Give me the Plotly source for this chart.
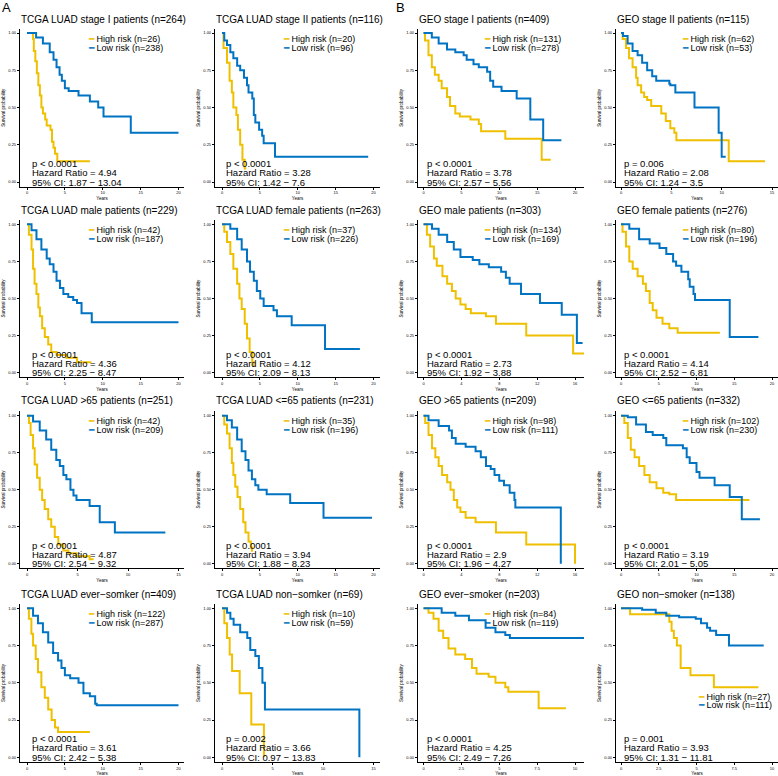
import plotly.graph_objects as go

# ---- data: Kaplan-Meier steps (years, survival) ----
tcga_stage1_high = [(0, 1.0), (0.8, 0.96), (0.9, 0.88), (1.1, 0.81), (1.3, 0.73), (1.5, 0.65), (1.7, 0.58),
                    (1.9, 0.50), (2.1, 0.46), (2.4, 0.42), (2.6, 0.38), (3.1, 0.35), (3.3, 0.27), (3.5, 0.23),
                    (3.7, 0.19), (4.0, 0.14), (8.3, 0.14)]
tcga_stage1_low = [(0, 1.0), (1.2, 0.97), (2.1, 0.93), (3.0, 0.87), (3.5, 0.82), (3.9, 0.77), (4.3, 0.72),
                   (4.6, 0.68), (5.0, 0.63), (5.5, 0.61), (6.8, 0.58), (8.3, 0.54), (9.4, 0.50), (10.1, 0.44),
                   (13.7, 0.33), (20.0, 0.33)]
tcga_stage2_high = [(0, 1.0), (0.2, 0.90), (0.66, 0.80), (1.0, 0.68), (1.3, 0.60), (1.5, 0.50), (1.9, 0.45),
                    (2.1, 0.35), (2.4, 0.25), (2.7, 0.15), (3.0, 0.09), (3.2, 0.09)]
tcga_stage2_low = [(0, 1.0), (0.3, 0.95), (0.66, 0.92), (1.1, 0.87), (1.5, 0.83), (2.0, 0.78), (2.4, 0.75),
                   (2.9, 0.70), (3.3, 0.65), (3.5, 0.60), (4.0, 0.56), (4.2, 0.45), (4.4, 0.40), (4.9, 0.35),
                   (5.3, 0.31), (5.5, 0.26), (7.0, 0.17), (19.3, 0.17)]
geo_stage1_high = [(0, 1.0), (0.2, 0.95), (0.66, 0.85), (1.1, 0.77), (1.5, 0.72), (2.0, 0.68), (2.4, 0.63),
                   (3.1, 0.57), (3.5, 0.51), (4.2, 0.46), (4.8, 0.44), (6.2, 0.42), (7.3, 0.39), (7.6, 0.34),
                   (10.8, 0.29), (15.6, 0.15), (16.8, 0.15)]
geo_stage1_low = [(0, 1.0), (1.1, 0.97), (2.0, 0.93), (3.1, 0.89), (4.2, 0.87), (5.3, 0.85), (5.7, 0.82),
                  (6.6, 0.79), (7.3, 0.77), (8.4, 0.74), (8.8, 0.68), (9.2, 0.64), (10.3, 0.61), (12.3, 0.56),
                  (14.1, 0.42), (15.8, 0.28), (18.2, 0.28)]
geo_stage2_high = [(0, 1.0), (0.16, 0.96), (0.5, 0.90), (0.8, 0.83), (1.15, 0.77), (1.5, 0.70), (1.65, 0.65),
                   (2.0, 0.60), (2.3, 0.57), (2.6, 0.55), (3.0, 0.51), (4.0, 0.46), (4.45, 0.41), (4.9, 0.36),
                   (5.3, 0.33), (5.5, 0.28), (10.7, 0.14), (14.3, 0.14)]
geo_stage2_low = [(0, 1.0), (0.2, 0.98), (0.66, 0.93), (1.15, 0.88), (1.65, 0.85), (2.1, 0.80), (2.6, 0.75),
                  (3.1, 0.71), (3.5, 0.68), (4.8, 0.66), (4.9, 0.65), (5.4, 0.60), (7.3, 0.50), (9.7, 0.33),
                  (10.0, 0.17), (10.4, 0.17)]

tcga_male_high = [(0, 1.0), (0.25, 0.93), (0.6, 0.83), (0.8, 0.70), (1.0, 0.60), (1.25, 0.53), (1.5, 0.44),
                  (1.7, 0.38), (2.0, 0.30), (2.35, 0.24), (2.8, 0.19), (3.2, 0.14), (3.9, 0.12), (5.2, 0.10),
                  (6.6, 0.07), (8.5, 0.07)]
tcga_male_low = [(0, 1.0), (0.6, 0.96), (1.25, 0.90), (1.9, 0.83), (2.6, 0.77), (3.0, 0.73), (3.5, 0.68),
                 (3.9, 0.62), (4.35, 0.57), (4.8, 0.53), (5.45, 0.51), (6.1, 0.49), (6.6, 0.47), (7.2, 0.40),
                 (8.55, 0.34), (20.0, 0.34)]
tcga_female_high = [(0, 1.0), (0.3, 0.95), (0.66, 0.88), (1.1, 0.80), (1.5, 0.70), (2.0, 0.60), (2.3, 0.50),
                    (2.6, 0.43), (3.0, 0.33), (3.3, 0.23), (3.65, 0.14), (4.0, 0.07), (4.2, 0.04)]
tcga_female_low = [(0, 1.0), (1.1, 0.97), (2.0, 0.90), (2.6, 0.83), (3.3, 0.75), (3.7, 0.68), (4.2, 0.62),
                   (4.6, 0.55), (5.05, 0.50), (5.5, 0.45), (6.8, 0.42), (7.25, 0.38), (9.2, 0.32), (13.6, 0.16),
                   (18.2, 0.16)]
geo_male_high = [(0, 1.0), (0.36, 0.93), (0.7, 0.85), (1.1, 0.77), (1.4, 0.72), (2.0, 0.65), (2.5, 0.60),
                 (3.0, 0.55), (3.4, 0.50), (3.9, 0.46), (4.45, 0.43), (5.0, 0.40), (6.6, 0.38), (7.65, 0.33),
                 (10.85, 0.25), (15.8, 0.13), (17.1, 0.13)]
geo_male_low = [(0, 1.0), (0.9, 0.97), (1.6, 0.93), (2.5, 0.88), (3.2, 0.83), (3.9, 0.78), (5.2, 0.76),
                (5.9, 0.73), (6.9, 0.71), (8.2, 0.68), (8.7, 0.64), (9.1, 0.60), (10.3, 0.53), (12.3, 0.47),
                (14.6, 0.39), (16.2, 0.20), (16.8, 0.20)]
geo_female_high = [(0, 1.0), (0.2, 0.95), (0.66, 0.85), (1.1, 0.75), (1.55, 0.70), (2.2, 0.65), (2.9, 0.60),
                   (3.3, 0.55), (3.8, 0.47), (4.2, 0.42), (4.7, 0.37), (5.5, 0.33), (6.4, 0.30), (7.5, 0.27),
                   (13.1, 0.27)]
geo_female_low = [(0, 1.0), (1.1, 0.97), (2.4, 0.90), (3.8, 0.87), (5.1, 0.84), (6.0, 0.80), (6.9, 0.75),
                  (7.3, 0.72), (8.0, 0.68), (8.9, 0.63), (9.1, 0.58), (9.6, 0.53), (9.8, 0.49), (14.4, 0.24),
                  (18.2, 0.24)]

tcga_over65_high = [(0, 1.0), (0.2, 0.95), (0.36, 0.87), (0.6, 0.78), (0.76, 0.67), (1.0, 0.58), (1.26, 0.50),
                    (1.5, 0.43), (1.75, 0.37), (2.1, 0.30), (2.4, 0.25), (2.75, 0.18), (3.1, 0.13), (3.6, 0.09),
                    (4.1, 0.07), (4.9, 0.05), (6.2, 0.03), (6.6, 0.03)]
tcga_over65_low = [(0, 1.0), (0.6, 0.96), (1.26, 0.90), (1.9, 0.84), (2.4, 0.77), (2.9, 0.70), (3.25, 0.66),
                   (3.6, 0.60), (3.9, 0.57), (4.3, 0.50), (4.6, 0.46), (4.9, 0.43), (6.2, 0.39), (7.2, 0.28),
                   (8.7, 0.21), (13.7, 0.21)]
tcga_under65_high = [(0, 1.0), (0.3, 0.94), (0.66, 0.88), (1.0, 0.78), (1.3, 0.68), (1.5, 0.60), (1.75, 0.52),
                     (2.05, 0.45), (2.4, 0.37), (2.8, 0.28), (3.1, 0.21), (3.5, 0.15), (3.8, 0.11), (3.95, 0.08)]
tcga_under65_low = [(0, 1.0), (0.66, 0.97), (1.3, 0.92), (2.0, 0.84), (2.6, 0.76), (3.1, 0.70), (3.5, 0.63),
                    (3.95, 0.57), (4.4, 0.53), (4.8, 0.50), (5.9, 0.47), (9.0, 0.41), (13.4, 0.31), (19.8, 0.31)]
geo_over65_high = [(0, 1.0), (0.18, 0.95), (0.53, 0.87), (0.9, 0.78), (1.25, 0.72), (1.6, 0.66), (1.96, 0.60),
                   (2.5, 0.55), (2.85, 0.50), (3.2, 0.43), (3.56, 0.38), (3.9, 0.35), (4.45, 0.31), (5.5, 0.28),
                   (7.65, 0.21), (10.85, 0.13), (16.0, 0.0)]
geo_over65_low = [(0, 1.0), (0.53, 0.97), (1.6, 0.93), (2.7, 0.90), (3.0, 0.85), (3.4, 0.81), (4.45, 0.79),
                  (5.5, 0.76), (6.05, 0.72), (6.6, 0.66), (7.1, 0.64), (7.5, 0.60), (8.0, 0.56), (8.5, 0.53),
                  (9.1, 0.48), (9.6, 0.43), (9.7, 0.38), (14.5, 0.0)]
geo_under65_high = [(0, 1.0), (0.44, 0.95), (0.9, 0.85), (1.3, 0.77), (1.8, 0.72), (2.4, 0.66), (3.1, 0.60),
                    (3.8, 0.55), (4.7, 0.51), (5.6, 0.48), (6.4, 0.47), (7.3, 0.43), (17.0, 0.43)]
geo_under65_low = [(0, 1.0), (0.9, 0.99), (2.0, 0.94), (3.3, 0.89), (4.2, 0.87), (5.6, 0.85), (6.0, 0.80),
                   (8.2, 0.78), (8.7, 0.72), (9.1, 0.68), (10.0, 0.62), (10.4, 0.58), (12.4, 0.53), (14.4, 0.45),
                   (16.0, 0.30), (18.4, 0.30)]

tcga_ever_high = [(0, 1.0), (0.25, 0.93), (0.58, 0.83), (0.8, 0.75), (1.15, 0.66), (1.45, 0.57), (1.9, 0.47),
                  (2.35, 0.40), (2.8, 0.32), (3.25, 0.25), (3.7, 0.20), (4.1, 0.17), (8.3, 0.17)]
tcga_ever_low = [(0, 1.0), (0.8, 0.95), (1.45, 0.90), (2.1, 0.84), (2.8, 0.77), (3.45, 0.70), (4.1, 0.65),
                 (4.55, 0.60), (5.0, 0.55), (5.7, 0.53), (6.8, 0.50), (7.45, 0.43), (8.3, 0.41), (9.0, 0.36),
                 (9.2, 0.35), (20.0, 0.35)]
tcga_non_high = [(0, 1.0), (0.23, 0.90), (0.5, 0.80), (0.76, 0.69), (1.0, 0.58), (1.75, 0.43), (2.9, 0.22),
                 (4.15, 0.0)]
tcga_non_low = [(0, 1.0), (0.5, 0.97), (0.83, 0.93), (1.15, 0.89), (1.8, 0.84), (2.5, 0.80), (2.8, 0.72),
                (3.3, 0.68), (3.65, 0.60), (4.0, 0.50), (4.25, 0.32), (13.6, 0.0)]
geo_ever_high = [(0, 1.0), (0.33, 0.97), (0.66, 0.93), (1.0, 0.85), (1.3, 0.80), (1.65, 0.73), (2.1, 0.69),
                 (2.75, 0.66), (3.2, 0.60), (3.5, 0.56), (4.3, 0.54), (4.75, 0.50), (5.4, 0.47), (5.6, 0.44),
                 (7.6, 0.33), (9.4, 0.33)]
geo_ever_low = [(0, 1.0), (0.66, 1.0), (1.2, 0.97), (2.1, 0.95), (3.0, 0.92), (4.1, 0.87), (4.75, 0.84),
                (5.4, 0.82), (5.7, 0.80), (10.65, 0.80)]
geo_non_high = [(0, 1.0), (0.6, 0.96), (3.2, 0.91), (3.35, 0.85), (3.5, 0.80), (3.7, 0.75), (3.95, 0.60),
                (4.6, 0.55), (6.15, 0.47), (9.1, 0.47)]
geo_non_low = [(0, 1.0), (1.4, 0.99), (2.3, 0.97), (3.0, 0.95), (3.85, 0.94), (4.95, 0.93), (5.3, 0.90),
               (5.7, 0.87), (5.9, 0.85), (6.3, 0.82), (7.15, 0.75), (9.45, 0.75)]

high_curves = [tcga_stage1_high, tcga_stage2_high, geo_stage1_high, geo_stage2_high,
               tcga_male_high, tcga_female_high, geo_male_high, geo_female_high,
               tcga_over65_high, tcga_under65_high, geo_over65_high, geo_under65_high,
               tcga_ever_high, tcga_non_high, geo_ever_high, geo_non_high]
low_curves = [tcga_stage1_low, tcga_stage2_low, geo_stage1_low, geo_stage2_low,
              tcga_male_low, tcga_female_low, geo_male_low, geo_female_low,
              tcga_over65_low, tcga_under65_low, geo_over65_low, geo_under65_low,
              tcga_ever_low, tcga_non_low, geo_ever_low, geo_non_low]

titles = ["TCGA LUAD stage I patients (n=264)", "TCGA LUAD stage II patients (n=116)",
          "GEO stage I patients (n=409)", "GEO stage II patients (n=115)",
          "TCGA LUAD male patients (n=229)", "TCGA LUAD female patients (n=263)",
          "GEO male patients (n=303)", "GEO female patients (n=276)",
          "TCGA LUAD &gt;65 patients (n=251)", "TCGA LUAD &lt;=65 patients (n=231)",
          "GEO &gt;65 patients (n=209)", "GEO &lt;=65 patients (n=332)",
          "TCGA LUAD ever\u2212somker (n=409)", "TCGA LUAD non\u2212somker (n=69)",
          "GEO ever\u2212smoker (n=203)", "GEO non\u2212smoker (n=138)"]
n_high = [26, 20, 131, 62, 42, 37, 134, 80, 42, 35, 98, 102, 122, 10, 84, 27]
n_low = [238, 96, 278, 53, 187, 226, 169, 196, 209, 196, 111, 230, 287, 59, 119, 111]
p_text = ["p &lt; 0.0001", "p &lt; 0.0001", "p &lt; 0.0001", "p = 0.006",
          "p &lt; 0.0001", "p &lt; 0.0001", "p &lt; 0.0001", "p &lt; 0.0001",
          "p &lt; 0.0001", "p &lt; 0.0001", "p &lt; 0.0001", "p &lt; 0.0001",
          "p &lt; 0.0001", "p = 0.002", "p &lt; 0.0001", "p = 0.001"]
hazard_ratio = ["4.94", "3.28", "3.78", "2.08", "4.36", "4.12", "2.73", "4.14",
                "4.87", "3.94", "2.9", "3.19", "3.61", "3.66", "4.25", "3.93"]
ci_text = ["1.87 \u2212 13.04", "1.42 \u2212 7.6", "2.57 \u2212 5.56", "1.24 \u2212 3.5",
           "2.25 \u2212 8.47", "2.09 \u2212 8.13", "1.92 \u2212 3.88", "2.52 \u2212 6.81",
           "2.54 \u2212 9.32", "1.88 \u2212 8.23", "1.96 \u2212 4.27", "2.01 \u2212 5.05",
           "2.42 \u2212 5.38", "0.97 \u2212 13.83", "2.49 \u2212 7.26", "1.31 \u2212 11.81"]
x_tick_max = [20, 20, 20, 15, 20, 20, 16, 20, 15, 20, 16, 20, 20, 15, 10, 10]
x_tick_step = [5, 5, 5, 5, 5, 5, 4, 5, 5, 5, 4, 5, 5, 5, 2.5, 2.5]

# ---- layout geometry (pixels) ----
W, H = 778, 776
YELLOW = "#EFC000"
BLUE = "#0073C2"
FONT = "Liberation Sans, Arial, sans-serif"

# axis left px, axis right px, px of tick 0, px of last tick
cols = [(20, 184, 27, 178.5), (215, 380, 222, 373.5), (418, 584, 423.5, 575), (616, 778, 621, 772)]
# axis top px, axis bottom px, px of 1.00, px of 0.00
rows = [(29, 186.5, 33, 182), (220, 377, 224.3, 372.7), (411, 568, 415.7, 563.7), (604, 762, 608.3, 757.3)]
legend_x = [86, 281, 482, 680]
stats_x = [30, 224.3, 424.7, 622.3]

fig = go.Figure()
annotations = []
layout_axes = {}

for i in range(16):
    r, c = divmod(i, 4)
    k = "" if i == 0 else str(i + 1)
    dl, dr, p0, pm = cols[c]
    top, bot, p1, py0 = rows[r]

    M = x_tick_max[i]
    u = M / (pm - p0)
    xr = [-(p0 - dl) * u, M + (dr - pm) * u]
    v = 1 / (py0 - p1)
    yr = [-(bot - py0) * v, 1 + (p1 - top) * v]

    for curve, col in ((high_curves[i], YELLOW), (low_curves[i], BLUE)):
        fig.add_trace(go.Scatter(
            x=[p[0] for p in curve], y=[p[1] for p in curve],
            mode="lines", line=dict(color=col, width=2, shape="hv"),
            xaxis="x" + k, yaxis="y" + k, showlegend=False, hoverinfo="skip"))

    axis_common = dict(showline=True, linecolor="black", linewidth=1.2, ticks="outside",
                       ticklen=2, tickwidth=0.8, tickcolor="black", showgrid=False,
                       zeroline=False, automargin=False,
                       tickfont=dict(size=4, family=FONT, color="black"))
    layout_axes["xaxis" + k] = dict(axis_common, domain=[dl / W, dr / W], range=xr,
                                    anchor="y" + k, tick0=0, dtick=x_tick_step[i],
                                    title=dict(text="Years", font=dict(size=4.5, family=FONT), standoff=2))
    layout_axes["yaxis" + k] = dict(axis_common, domain=[(H - bot) / H, (H - top) / H], range=yr,
                                    anchor="x" + k, tick0=0, dtick=0.25, tickformat=".2f",
                                    title=dict(text="Survival probability",
                                               font=dict(size=4.5, family=FONT), standoff=2))

    # panel title
    annotations.append(dict(text=titles[i], x=(dl - 1) / W, y=(H - (top - 10)) / H,
                            xref="paper", yref="paper", xanchor="left", yanchor="middle",
                            showarrow=False, font=dict(size=10, family=FONT, color="black")))

    # legend block
    if i == 15:
        lx, ly = 696, (696.7, 705)
    else:
        lx, ly = legend_x[c], (top + 10, top + 18.5)
    for label, n, col, yy in (("High risk", n_high[i], YELLOW, ly[0]), ("Low risk", n_low[i], BLUE, ly[1])):
        annotations.append(dict(text=f'<span style="color:{col}">\u2501</span> {label} (n={n})',
                                x=lx / W, y=(H - yy) / H, xref="paper", yref="paper",
                                xanchor="left", yanchor="middle", showarrow=False,
                                font=dict(size=9, family=FONT, color="black")))

    # test statistics
    for line, off in ((p_text[i], 18.7), (f"Hazard Ratio = {hazard_ratio[i]}", 9.4), (f"95% CI: {ci_text[i]}", 0)):
        annotations.append(dict(text=line, x=stats_x[c] / W, y=(H - (py0 - off)) / H,
                                xref="paper", yref="paper", xanchor="left", yanchor="middle",
                                showarrow=False, font=dict(size=9.5, family=FONT, color="black")))

for letter, lx in (("A", 0), ("B", 394)):
    annotations.append(dict(text=letter, x=lx / W, y=(H - 8) / H, xref="paper", yref="paper",
                            xanchor="left", yanchor="middle", showarrow=False,
                            font=dict(size=13, family=FONT, color="black")))

fig.update_layout(
    width=W, height=H,
    margin=dict(l=0, r=0, t=0, b=0),
    template="none",
    paper_bgcolor="white", plot_bgcolor="white",
    font=dict(family=FONT, color="black"),
    annotations=annotations,
    **layout_axes
)

# page body margin would shift the figure by 8px
fig.write_html("out.html", config={"displayModeBar": False},
               post_script="document.body.style.margin='0';")
